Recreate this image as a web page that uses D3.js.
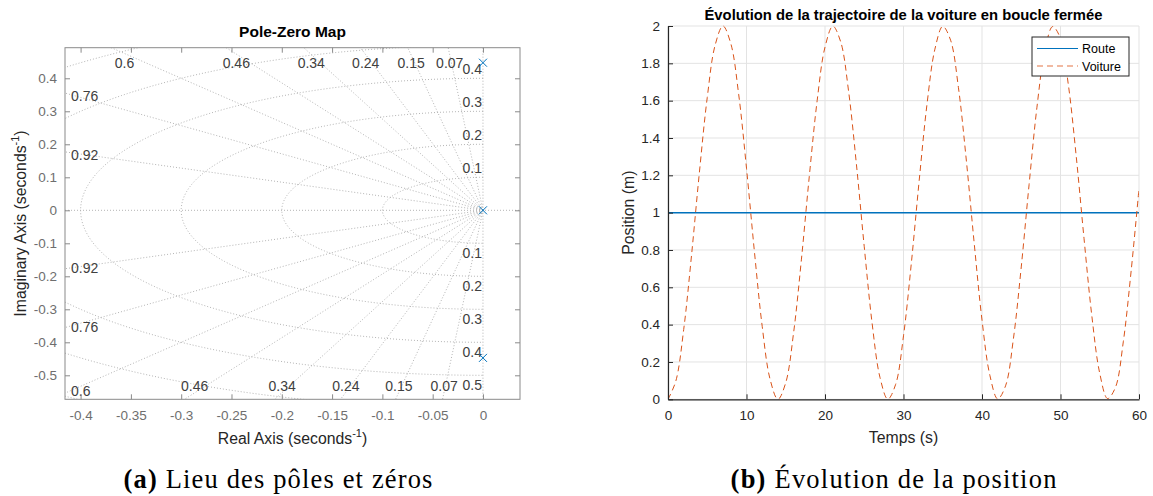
<!DOCTYPE html>
<html><head><meta charset="utf-8">
<script src="https://cdn.jsdelivr.net/npm/d3@7"></script>
<style>body{margin:0;background:#fff} svg{display:block}</style>
</head><body>
<svg id="c" width="1153" height="496"></svg>
<script>
// ---------- Pole-zero map data ----------
const poleRe = [0, 0, 0];
const poleIm = [0.4472, 0, -0.4472];
const dampingRatios = [0.07, 0.15, 0.24, 0.34, 0.46, 0.6, 0.76, 0.92];
const naturalFreqs = [0.1, 0.2, 0.3, 0.4, 0.5, 0.6, 0.7];
const pzXLimits = [-0.4155, 0.0368];
const pzYLimits = [-0.5727, 0.4927];
const pzXTicks = [-0.4, -0.35, -0.3, -0.25, -0.2, -0.15, -0.1, -0.05, 0];
const pzXTickLabels = ["-0.4", "-0.35", "-0.3", "-0.25", "-0.2", "-0.15", "-0.1", "-0.05", "0"];
const pzYTicks = [-0.5, -0.4, -0.3, -0.2, -0.1, 0, 0.1, 0.2, 0.3, 0.4];
const pzYTickLabels = ["-0.5", "-0.4", "-0.3", "-0.2", "-0.1", "0", "0.1", "0.2", "0.3", "0.4"];

// ---------- Trajectory data ----------
const time = [0,1,2,3,4,5,6,7,8,9,10,11,12,13,14,15,16,17,18,19,20,21,22,23,24,25,26,27,28,29,30,
  31,32,33,34,35,36,37,38,39,40,41,42,43,44,45,46,47,48,49,50,51,52,53,54,55,56,57,58,59,60];
const voiture = [0.000,0.098,0.374,0.773,1.216,1.617,1.897,2.000,1.906,1.635,1.238,0.795,0.391,0.108,0.000,
  0.089,0.357,0.751,1.195,1.600,1.887,1.999,1.915,1.652,1.260,0.817,0.408,0.118,0.001,
  0.080,0.340,0.730,1.173,1.583,1.876,1.998,1.924,1.669,1.282,0.839,0.425,0.129,0.002,
  0.072,0.324,0.709,1.151,1.565,1.866,1.997,1.933,1.685,1.303,0.860,0.444,0.139,0.004,
  0.064,0.308,0.688,1.129];
const routeTime = [0, 60];
const route = [1, 1];
const trajXTicks = [0, 10, 20, 30, 40, 50, 60];
const trajYTicks = [0, 0.2, 0.4, 0.6, 0.8, 1, 1.2, 1.4, 1.6, 1.8, 2];
const trajYTickLabels = ["0", "0.2", "0.4", "0.6", "0.8", "1", "1.2", "1.4", "1.6", "1.8", "2"];
const seriesNames = ["Route", "Voiture"];

const svg = d3.select("#c");
const FONT = "'Liberation Sans', Arial, Helvetica, sans-serif";
const SERIF = "'Liberation Serif', 'DejaVu Serif', serif";
const BLUE = "#0072BD", ORANGE = "#D95319";
const TICK_FS = 13.5, LABEL_FS = 15.8;

// ================= LEFT : Pole-Zero Map =================
const L = {x0: 65, x1: 520, y0: 47.7, y1: 399.3};
const xL = d3.scaleLinear().domain(pzXLimits).range([L.x0, L.x1]);
const yL = d3.scaleLinear().domain(pzYLimits).range([L.y1, L.y0]);

svg.append("clipPath").attr("id", "clipL").append("rect")
  .attr("x", L.x0).attr("y", L.y0).attr("width", L.x1 - L.x0).attr("height", L.y1 - L.y0);
const gridL = svg.append("g").attr("clip-path", "url(#clipL)")
  .attr("fill", "none").attr("stroke", "#ababab").attr("stroke-width", 0.9).attr("stroke-dasharray", "1,2");

// damping lines
const R = 3;
dampingRatios.forEach(z => {
  const s = Math.sqrt(1 - z * z);
  [1, -1].forEach(sg => {
    gridL.append("line").attr("x1", xL(0)).attr("y1", yL(0))
      .attr("x2", xL(-R * z)).attr("y2", yL(sg * R * s));
  });
});
// zeta = 1 and zeta = 0 lines
gridL.append("line").attr("x1", L.x0).attr("x2", L.x1).attr("y1", yL(0)).attr("y2", yL(0));
gridL.append("line").attr("x1", xL(0)).attr("x2", xL(0)).attr("y1", L.y0).attr("y2", L.y1);
// natural frequency semicircles
const circLine = d3.line().x(d => xL(d[0])).y(d => yL(d[1]));
naturalFreqs.forEach(w => {
  const pts = d3.range(0, 181, 1).map(a => {
    const t = (90 + a) * Math.PI / 180;
    return [w * Math.cos(t), w * Math.sin(t)];
  });
  gridL.append("path").attr("d", circLine(pts));
});

// grid labels
const gl = svg.append("g").attr("font-family", FONT).attr("font-size", 14).attr("fill", "#404040");
dampingRatios.forEach(z => {
  const s = Math.sqrt(1 - z * z);
  [[1, pzYLimits[1]], [-1, pzYLimits[0]]].forEach(([sg, ylim]) => {
    const yAtLeft = -pzXLimits[0] * s / z;
    if (yAtLeft <= Math.abs(ylim)) {
      let cy = yL(sg * yAtLeft) + (sg > 0 ? 3 : -1);
      cy = Math.min(cy, L.y1 - 8);
      gl.append("text").attr("x", L.x0 + 6).attr("y", cy + 5).text(String(z));
    } else {
      const xr = -Math.abs(ylim) * z / s;
      const cy = sg > 0 ? L.y0 + 15 : L.y1 - 13;
      gl.append("text").attr("x", xL(xr) + 22 * z).attr("y", cy + 5)
        .attr("text-anchor", "middle").text(String(z));
    }
  });
});
naturalFreqs.forEach(w => {
  if (w <= pzYLimits[1]) gl.append("text").attr("x", xL(0) - 1).attr("y", yL(w) - 9 + 5)
    .attr("text-anchor", "end").text(String(w));
  if (w <= -pzYLimits[0] - 0.03) gl.append("text").attr("x", xL(0) - 1).attr("y", yL(-w) + 10 + 5)
    .attr("text-anchor", "end").text(String(w));
});

// poles
const poleG = svg.append("g").attr("stroke", BLUE).attr("stroke-width", 1);
poleRe.forEach((re, i) => {
  const cx = xL(re), cy = yL(poleIm[i]), r = 4;
  poleG.append("path").attr("d", `M${cx - r},${cy - r}L${cx + r},${cy + r}M${cx - r},${cy + r}L${cx + r},${cy - r}`);
});

// axes box
const axL = svg.append("g").attr("font-family", FONT);
axL.append("rect").attr("x", L.x0).attr("y", L.y0).attr("width", L.x1 - L.x0).attr("height", L.y1 - L.y0)
  .attr("fill", "none").attr("stroke", "#8a8a8a").attr("stroke-width", 1);
const xAxL = axL.append("g").attr("transform", `translate(0,${L.y1})`)
  .call(d3.axisBottom(xL).tickValues(pzXTicks).tickFormat((d, i) => pzXTickLabels[i]).tickSizeInner(-5).tickSizeOuter(0).tickPadding(11));
const xAxLt = axL.append("g").attr("transform", `translate(0,${L.y0})`)
  .call(d3.axisTop(xL).tickValues(pzXTicks).tickFormat("").tickSizeInner(-5).tickSizeOuter(0));
const yAxL = axL.append("g").attr("transform", `translate(${L.x0},0)`)
  .call(d3.axisLeft(yL).tickValues(pzYTicks).tickFormat((d, i) => pzYTickLabels[i]).tickSizeInner(-5).tickSizeOuter(0).tickPadding(8));
const yAxLr = axL.append("g").attr("transform", `translate(${L.x1},0)`)
  .call(d3.axisRight(yL).tickValues(pzYTicks).tickFormat("").tickSizeInner(-5).tickSizeOuter(0));
[xAxL, xAxLt, yAxL, yAxLr].forEach(g => {
  g.select(".domain").remove();
  g.selectAll(".tick line").attr("stroke", "#8a8a8a");
  g.selectAll(".tick text").attr("fill", "#6e6e6e").attr("font-size", TICK_FS).attr("font-family", FONT);
});

svg.append("text").attr("x", (L.x0 + L.x1) / 2).attr("y", 37).attr("text-anchor", "middle")
  .attr("font-family", FONT).attr("font-size", 15.5).attr("font-weight", "bold").attr("fill", "#000").text("Pole-Zero Map");
const xlab = svg.append("text").attr("x", (L.x0 + L.x1) / 2).attr("y", 444).attr("text-anchor", "middle")
  .attr("font-family", FONT).attr("font-size", LABEL_FS).attr("fill", "#262626");
xlab.append("tspan").text("Real Axis (seconds");
xlab.append("tspan").attr("dy", -7).attr("font-size", 11).text("-1");
xlab.append("tspan").attr("dy", 7).text(")");
const ylab = svg.append("text").attr("transform", `translate(26,${(L.y0 + L.y1) / 2}) rotate(-90)`).attr("text-anchor", "middle")
  .attr("font-family", FONT).attr("font-size", LABEL_FS).attr("fill", "#262626");
ylab.append("tspan").text("Imaginary Axis (seconds");
ylab.append("tspan").attr("dy", -7).attr("font-size", 11).text("-1");
ylab.append("tspan").attr("dy", 7).text(")");

// ================= RIGHT : trajectory =================
const P = {x0: 668, x1: 1139, y0: 26, y1: 399.3};
const xR = d3.scaleLinear().domain([0, 60]).range([P.x0, P.x1]);
const yR = d3.scaleLinear().domain([0, 2]).range([P.y1, P.y0]);

const gridR = svg.append("g").attr("stroke", "#e3e3e3").attr("stroke-width", 1);
trajXTicks.forEach(t => gridR.append("line").attr("x1", xR(t)).attr("x2", xR(t)).attr("y1", P.y0).attr("y2", P.y1));
trajYTicks.forEach(t => gridR.append("line").attr("x1", P.x0).attr("x2", P.x1).attr("y1", yR(t)).attr("y2", yR(t)));

svg.append("clipPath").attr("id", "clipR").append("rect")
  .attr("x", P.x0).attr("y", P.y0 - 2).attr("width", P.x1 - P.x0).attr("height", P.y1 - P.y0 + 4);

const lineR = d3.line().x(d => xR(d[0])).y(d => yR(d[1]));
svg.append("path").attr("clip-path", "url(#clipR)")
  .attr("d", lineR(routeTime.map((t, i) => [t, route[i]])))
  .attr("fill", "none").attr("stroke", BLUE).attr("stroke-width", 1.5);
svg.append("path").attr("clip-path", "url(#clipR)")
  .attr("d", lineR.curve(d3.curveCatmullRom.alpha(0.5))(time.map((t, i) => [t, voiture[i]])))
  .attr("fill", "none").attr("stroke", ORANGE).attr("stroke-width", 1).attr("stroke-dasharray", "6,4");

const axR = svg.append("g").attr("font-family", FONT);
const xAxR = axR.append("g").attr("transform", `translate(0,${P.y1})`)
  .call(d3.axisBottom(xR).tickValues(trajXTicks).tickFormat(d3.format("d")).tickSizeInner(-5).tickSizeOuter(0).tickPadding(11));
const yAxR = axR.append("g").attr("transform", `translate(${P.x0},0)`)
  .call(d3.axisLeft(yR).tickValues(trajYTicks).tickFormat((d, i) => trajYTickLabels[i]).tickSizeInner(-5).tickSizeOuter(0).tickPadding(8));
[xAxR, yAxR].forEach(g => {
  g.select(".domain").attr("stroke", "#262626").attr("stroke-width", 1.2);
  g.selectAll(".tick line").attr("stroke", "#262626");
  g.selectAll(".tick text").attr("fill", "#262626").attr("font-size", TICK_FS).attr("font-family", FONT);
});

svg.append("text").attr("x", (P.x0 + P.x1) / 2).attr("y", 20).attr("text-anchor", "middle")
  .attr("font-family", FONT).attr("font-size", 14.8).attr("font-weight", "bold").attr("fill", "#000")
  .text("Évolution de la trajectoire de la voiture en boucle fermée");
svg.append("text").attr("x", (P.x0 + P.x1) / 2).attr("y", 443).attr("text-anchor", "middle")
  .attr("font-family", FONT).attr("font-size", LABEL_FS).attr("fill", "#262626").text("Temps (s)");
svg.append("text").attr("transform", `translate(634,${(P.y0 + P.y1) / 2}) rotate(-90)`).attr("text-anchor", "middle")
  .attr("font-family", FONT).attr("font-size", LABEL_FS).attr("fill", "#262626").text("Position (m)");

// legend
const lg = svg.append("g").attr("font-family", FONT).attr("font-size", 12.5);
lg.append("rect").attr("x", 1032).attr("y", 37).attr("width", 97).attr("height", 39)
  .attr("fill", "#fff").attr("stroke", "#262626").attr("stroke-width", 1);
const legStyles = [{c: BLUE, w: 1, dash: null}, {c: "#eda383", w: 1.6, dash: "6,4"}];
seriesNames.forEach((name, i) => {
  const yy = 48.5 + i * 17.5;
  const ln = lg.append("line").attr("x1", 1037).attr("x2", 1078).attr("y1", yy).attr("y2", yy)
    .attr("stroke", legStyles[i].c).attr("stroke-width", legStyles[i].w);
  if (legStyles[i].dash) ln.attr("stroke-dasharray", legStyles[i].dash);
  lg.append("text").attr("x", 1082).attr("y", yy + 4.5).attr("fill", "#000").text(name);
});

// ================= captions =================
function caption(cx, label, rest, targetW) {
  const t = svg.append("text").attr("x", cx).attr("y", 488).attr("text-anchor", "middle")
    .attr("font-family", SERIF).attr("font-size", 26.5).attr("fill", "#000");
  t.append("tspan").attr("font-weight", "bold").text(label);
  t.append("tspan").text(rest);
  const w = t.node().getComputedTextLength();
  const n = (label + rest).length;
  const ls = Math.max(0, (targetW - w) / n);
  t.attr("letter-spacing", ls).attr("x", cx + ls / 2);
}
caption(278, "(a)", " Lieu des pôles et zéros", 310);
caption(893.5, "(b)", " Évolution de la position", 327);
</script>
</body></html>
